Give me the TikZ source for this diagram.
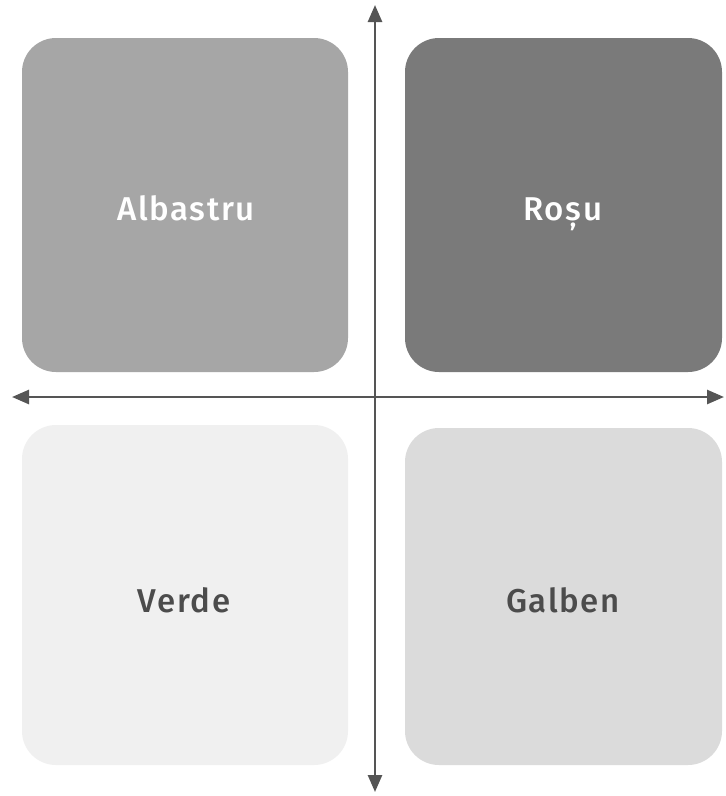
\documentclass[tikz,border=0pt]{standalone}
\usepackage{fontspec}
\setmainfont{Fira Sans}[BoldFont={Fira Sans Medium}, LetterSpace=5]
\usetikzlibrary{arrows.meta}
\definecolor{axisgray}{HTML}{555555}
\tikzset{
  lbl/.style={font=\fontsize{33}{36}\selectfont\bfseries, anchor=base, inner sep=0pt},
  quadfill/.style={rounded corners=34pt},
  axis/.style={draw=axisgray, line width=2.6pt, {Triangle[length=17pt,width=14pt]}-{Triangle[length=17pt,width=14pt]}}
}
\begin{document}
\begin{tikzpicture}[x=1pt,y=-1pt]
\useasboundingbox (0,0) rectangle (726,796);
\fill[white] (0,0) rectangle (726,796);
\fill[gray!70!white, quadfill] (22,38) rectangle (348,372);
\fill[black!52, quadfill] (405,38) rectangle (722,372);
\fill[black!6, quadfill] (22,425) rectangle (348,765);
\fill[black!14, quadfill] (405,428) rectangle (722,765);
\node[lbl, text=white] (tl) at (186,220) {Albastru};
\node[lbl, text=white] (tr) at (563,220) {Roșu};
\node[lbl, text=black!70] (bl) at (184,612) {Verde};
\node[lbl, text=black!70] (br) at (563,612) {Galben};
\coordinate (top) at (375,5);
\coordinate (bot) at (375,792);
\coordinate (lft) at (12,397);
\coordinate (rgt) at (724,397);
\draw[axis] (top) -- (bot);
\draw[axis] (lft) -- (rgt);
\end{tikzpicture}
\end{document}
